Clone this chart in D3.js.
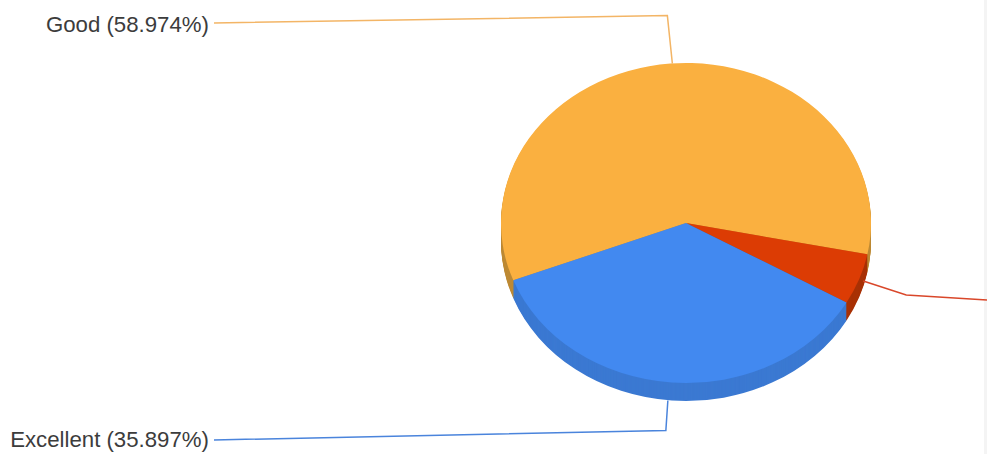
<!DOCTYPE html>
<html><head><meta charset="utf-8">
<script src="https://cdn.jsdelivr.net/npm/d3@7"></script>
<style>html,body{margin:0;padding:0;background:#fff;overflow:hidden}svg{display:block}</style>
</head><body><div id="c"></div>
<script>
const categories = ["Good", "Fair", "Excellent"];
const values = [58.974, 5.129, 35.897];
const labels = ["Good (58.974%)", null, "Excellent (35.897%)"];
const topColors = ["#fab040", "#dc3c04", "#4289f0"];
const sideColors = ["#bd8a35", "#a83206", "#3b79d2"];
const lineColors = ["#f3b566", "#d9472a", "#4a84dc"];

const W = 987, H = 454, cx = 686, cy = 223, rx = 185, ry = 160, depth = 18;
const svg = d3.select("#c").append("svg").attr("width", W).attr("height", H);
svg.append("rect").attr("x", 984).attr("y", 0).attr("width", 3).attr("height", H).attr("fill", "#f4f4f4");

const rad = Math.PI / 180;
const pie = d3.pie().sort(null).value(d => d).startAngle(249 * rad).endAngle((249 + 360) * rad);
const slices = pie(values);
const arc = d3.arc().innerRadius(0).outerRadius(rx);

// Extruded side: the same arcs, stacked downwards
for (let d = depth; d > 0; d--) {
  svg.append("g").attr("transform", `translate(${cx},${cy + d}) scale(1,${ry / rx})`)
    .selectAll("path").data(slices).join("path")
    .attr("d", arc).attr("fill", (s, i) => sideColors[i]);
}
// Top face
svg.append("g").attr("transform", `translate(${cx},${cy}) scale(1,${ry / rx})`)
  .selectAll("path").data(slices).join("path")
  .attr("d", arc).attr("fill", (s, i) => topColors[i]);

// Leader lines start on the rim at each slice's middle angle
const leaderLayout = [
  { rim: 0,   startDx: 2,  elbowDx: -5, elbowDy: -48, endX: 214, endY: 23, textDy: 2 },
  { rim: 0.1, startDx: 4,  elbowDx: 43, elbowDy: 14,  endX: 987, endY: 300, textDy: 0 },
  { rim: 1,   startDx: -4, elbowDx: -2, elbowDy: 30,  endX: 214, endY: 440, textDy: 0 }
];
slices.forEach((s, i) => {
  const m = (s.startAngle + s.endAngle) / 2, l = leaderLayout[i];
  const x0 = cx + rx * Math.sin(m) + l.startDx, y0 = cy - ry * Math.cos(m) + depth * l.rim;
  const ex = x0 + l.elbowDx, ey = y0 + l.elbowDy;
  svg.append("path").attr("d", d3.line()([[x0, y0], [ex, ey], [l.endX, l.endY]]))
    .attr("fill", "none").attr("stroke", lineColors[i]).attr("stroke-width", 1.5);
  if (labels[i]) {
    svg.append("text")
      .attr("transform", `translate(${l.endX - 5},${l.endY + 1 + l.textDy}) scale(1.01,1)`)
      .attr("text-anchor", "end").attr("dominant-baseline", "middle")
      .attr("font-family", "'Liberation Sans', Arial, sans-serif").attr("font-size", 22)
      .attr("fill", "#3c3c3c").text(labels[i]);
  }
});
</script></body></html>
